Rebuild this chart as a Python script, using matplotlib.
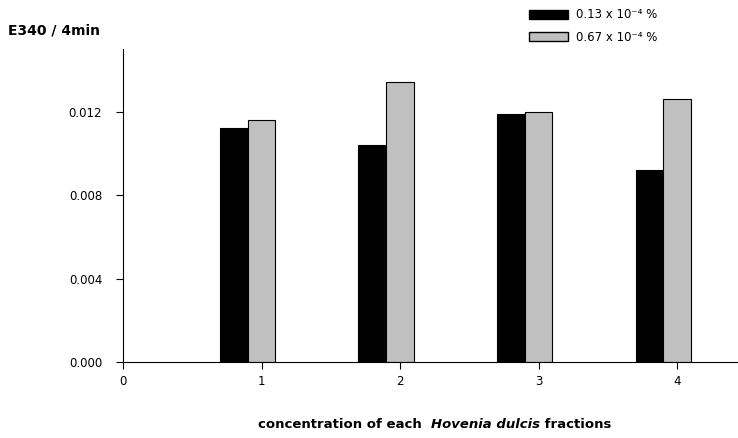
# Grouped bar chart: E340 / 4min for Hovenia dulcis fractions.
import numpy as np
import matplotlib.pyplot as plt
from matplotlib.patches import Patch

plt.rcParams['font.family'] = ['DejaVu Sans']

# Data.
fractions = [1, 2, 3, 4]
low_conc = [0.0112, 0.0104, 0.0119, 0.0092]
high_conc = [0.0116, 0.0134, 0.0120, 0.0126]
series_labels = ['0.13 x 10⁻⁴ %', '0.67 x 10⁻⁴ %']
y_ticks = [0.000, 0.004, 0.008, 0.012]

fig = plt.figure(figsize=(7.38, 4.38), dpi=100)
ax = fig.add_axes([0.1667, 0.1735, 0.8333, 0.7145])

x = np.array(fractions, dtype=float)
w = 0.2
ax.bar(x - 1.5 * w, low_conc, w, align='edge', color='black', edgecolor='black', linewidth=0.8)
ax.bar(x - 0.5 * w, high_conc, w, align='edge', color='#c0c0c0', edgecolor='black', linewidth=0.8)

ax.set_xlim(0, 4.44)
ax.set_ylim(0, 0.015)
ax.set_xticks([0] + fractions)
ax.set_yticks(y_ticks)
ax.set_yticklabels([f'{v:.3f}' for v in y_ticks])
ax.spines['top'].set_visible(False)
ax.spines['right'].set_visible(False)
ax.tick_params(direction='out', length=5, labelsize=8.5)
ax.tick_params(axis='y', pad=10)
ax.tick_params(axis='x', pad=4)

# Axis labels.
fig.text(0.011, 0.93, 'E340 / 4min', fontsize=10, fontweight='bold', va='center')
t1 = fig.text(0.35, 0.023, 'concentration of each  ', fontsize=9.5, fontweight='bold', va='baseline')
t2 = ax.annotate('Hovenia dulcis', xy=(1, 0), xycoords=t1, fontsize=9.5,
                 fontweight='bold', fontstyle='italic', va='bottom')
ax.annotate(' fractions', xy=(1, 0), xycoords=t2, fontsize=9.5, fontweight='bold', va='bottom')

# Legend in the top right corner.
handles = [Patch(facecolor='black', edgecolor='black'),
           Patch(facecolor='#c0c0c0', edgecolor='black')]
fig.legend(handles, series_labels, loc='upper left', bbox_to_anchor=(0.702, 1.005),
           frameon=False, fontsize=8.5, handlelength=3.3, handleheight=0.8,
           labelspacing=0.8, handletextpad=0.7)

plt.savefig('out.png', dpi=100)
